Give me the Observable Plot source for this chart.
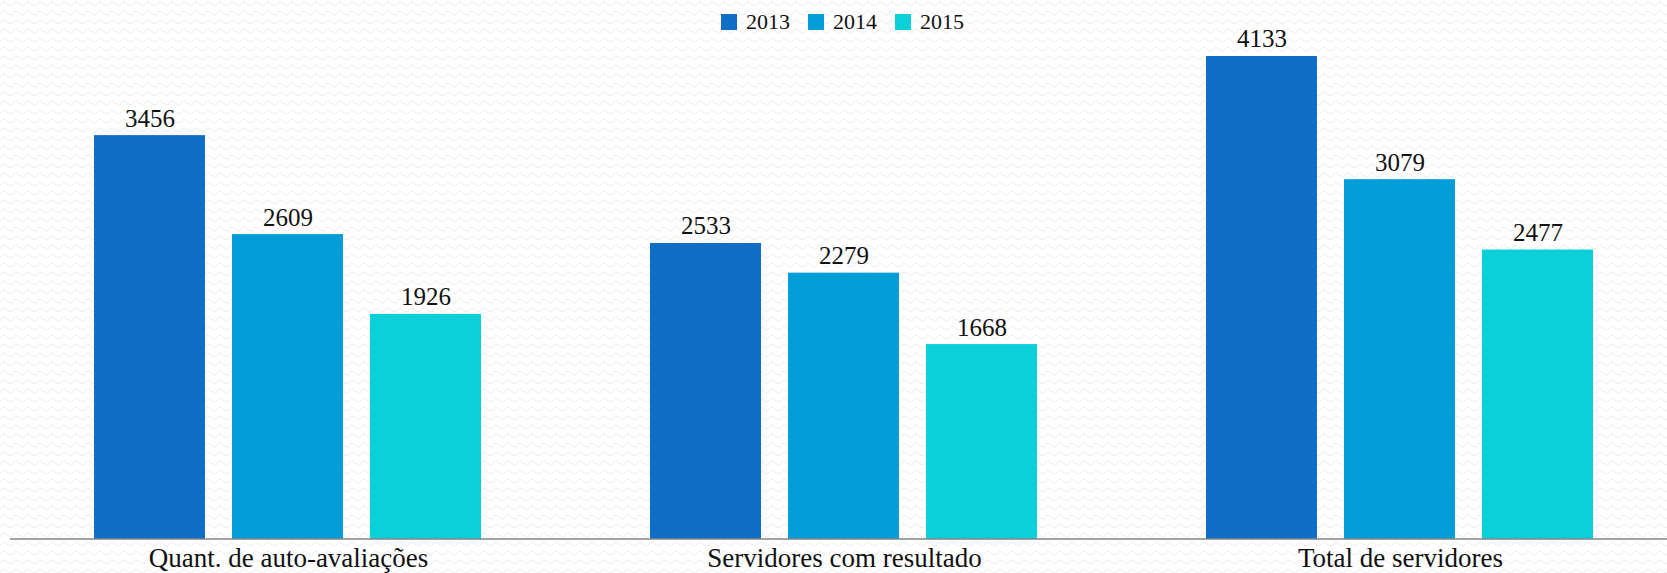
<!DOCTYPE html>
<html>
<head>
<meta charset="utf-8">
<script src="https://cdn.jsdelivr.net/npm/d3@7"></script>
<script src="https://cdn.jsdelivr.net/npm/@observablehq/plot@0.6"></script>
<style>
  html, body { margin: 0; padding: 0; }
  body {
    width: 1667px; height: 573px; overflow: hidden; position: relative;
    background-color: #ffffff;
    background-image: url("data:image/svg+xml;utf8,<svg xmlns='http://www.w3.org/2000/svg' width='12' height='9'><path d='M0 6 Q3 0 6 3 T12 6' fill='none' stroke='%23ececec' stroke-width='1'/></svg>");
  }
  .serif { font-family: "Liberation Serif", "DejaVu Serif", serif; }
  #legend { position: absolute; left: 721px; top: 9px; display: flex; align-items: center; font-size: 22px; color: #111; }
  #legend .item { display: flex; align-items: center; margin-right: 18px; }
  #legend .sw { width: 16px; height: 16px; margin-right: 9px; }
  #chart { position: absolute; left: 0; top: 0; }
  #chart svg, #chart svg text { font-family: "Liberation Serif", "DejaVu Serif", serif !important; }
</style>
</head>
<body>
<div id="chart"></div>
<div id="legend" class="serif"></div>
<script>
const categories = ["Quant. de auto-avaliações", "Servidores com resultado", "Total de servidores"];
const years = ["2013", "2014", "2015"];
const values2013 = [3456, 2533, 4133];
const values2014 = [2609, 2279, 3079];
const values2015 = [1926, 1668, 2477];
const colors = ["#0F6FC6", "#009DD9", "#0BD0D9"];

const series = [values2013, values2014, values2015];
const data = [];
categories.forEach((c, i) => {
  years.forEach((y, j) => data.push({category: c, year: y, value: series[j][i]}));
});

const chart = Plot.plot({
  width: 1667,
  height: 573,
  marginLeft: 10,
  marginRight: 0,
  marginTop: 13.1,
  marginBottom: 34,
  style: {background: "transparent", color: "#111"},
  fx: {domain: categories, paddingInner: 0.2986, paddingOuter: 0.1394, align: 0.535, label: null},
  x: {domain: years, paddingInner: 0.194, paddingOuter: 0, axis: null},
  y: {domain: [0, 4500], axis: null},
  color: {domain: years, range: colors},
  marks: [
    Plot.barY(data, {fx: "category", x: "year", y: "value", fill: "year"}),
    Plot.text(data, {fx: "category", x: "year", y: "value", text: d => String(d.value), dy: -9, lineAnchor: "bottom", fontSize: 25, fill: "#111"}),
    Plot.axisFx({anchor: "bottom", tickSize: 0, tickPadding: 8, fontSize: 27, label: null, fill: "#111"})
  ]
});
document.getElementById("chart").appendChild(chart);

// baseline (category axis line) across the full chart width, placed with the y scale
const y0 = chart.scale("y").apply(0);
d3.select(chart).append("line")
  .attr("x1", 10).attr("x2", 1667)
  .attr("y1", y0).attr("y2", y0)
  .attr("stroke", "#858585").attr("stroke-width", 1.5);

const legend = d3.select("#legend");
years.forEach((y, i) => {
  const it = legend.append("div").attr("class", "item");
  it.append("div").attr("class", "sw").style("background", colors[i]);
  it.append("span").text(y);
});
</script>
</body>
</html>
